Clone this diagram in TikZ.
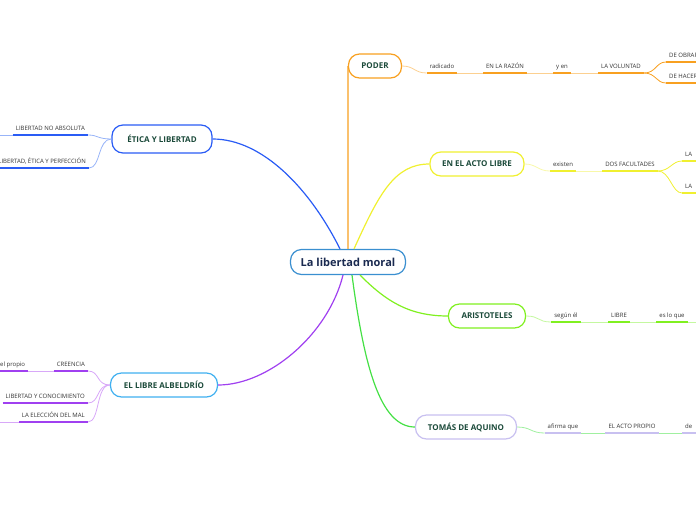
\documentclass[tikz,border=0pt]{standalone}
\usepackage{fontspec}
\setmainfont{Open Sans}
\definecolor{cenblue}{HTML}{3A8FD0}
\definecolor{cenink}{HTML}{1A2A50}
\definecolor{topink}{HTML}{1B4A3A}
\definecolor{leafink}{HTML}{333333}
\definecolor{poderc}{HTML}{F8A020}
\definecolor{poderl}{HTML}{FCD090}
\definecolor{eticac}{HTML}{2A5CF5}
\definecolor{eticl}{HTML}{98B4F8}
\definecolor{actoc}{HTML}{F0F030}
\definecolor{actol}{HTML}{F8F8A8}
\definecolor{aristc}{HTML}{80F020}
\definecolor{aristl}{HTML}{C4F8A0}
\definecolor{albelc}{HTML}{40B0F0}
\definecolor{albelline}{HTML}{A040F0}
\definecolor{albell}{HTML}{D8A8F8}
\definecolor{tomasc}{HTML}{C8C0F0}
\definecolor{tomasline}{HTML}{44E044}
\definecolor{tomasl}{HTML}{A0F0A0}

\begin{document}
\begin{tikzpicture}[x=1pt,y=-1pt,
  central/.style={draw=cenblue,line width=1.2pt,rounded corners=11pt,fill=white,
    minimum height=25pt,minimum width=115pt,text=cenink,
    font=\fontsize{11}{13}\selectfont\bfseries},
  topic/.style={rounded corners=11pt,fill=white,line width=1.2pt,minimum height=24pt,
    inner xsep=10pt,text=topink,font=\fontsize{8}{9}\selectfont\bfseries},
  leaf/.style={inner xsep=3pt,inner ysep=3pt,text height=4.5pt,text depth=1pt,
    text=leafink,font=\fontsize{6}{7}\selectfont},
  link/.style={line width=1.2pt},
  uline/.style={line width=1.8pt},
  thinl/.style={line width=0.8pt}]
\useasboundingbox (0,0) rectangle (696,520);

% topics
\node[central] (moral) at (348,262) {La libertad moral};
\node[topic,draw=poderc,minimum width=53pt] (poder) at (375,66) {PODER};
\node[topic,draw=eticac,minimum width=100pt,minimum height=28pt] (etica) at (162,139) {ÉTICA Y LIBERTAD};
\node[topic,draw=actoc,minimum width=94pt] (acto) at (477,164) {EN EL ACTO LIBRE};
\node[topic,draw=aristc,minimum width=77pt] (arist) at (487,316) {ARISTOTELES};
\node[topic,draw=albelc,minimum width=107pt] (albel) at (164,385) {EL LIBRE ALBELDRÍO};
\node[topic,draw=tomasc,minimum width=101pt] (tomas) at (466,427) {TOMÁS DE AQUINO};

\draw[link,eticac] ([xshift=-8pt]moral.north) .. controls +(-30,-60) and +(50,0) .. (etica.east);
\draw[link,poderc] (moral.north) -- (poder.west);
\draw[link,actoc] ([xshift=6pt]moral.north) .. controls +(25,-55) and +(-35,0) .. (acto.west);
\draw[link,aristc] ([xshift=12pt]moral.south) .. controls +(25,25) and +(-40,0) .. (arist.west);
\draw[link,albelline] ([xshift=-5pt]moral.south) .. controls +(-15,60) and +(50,0) .. (albel.east);
\draw[link,tomasline] ([xshift=4pt]moral.south) .. controls +(12,90) and +(-35,0) .. (tomas.west);

% PODER
\node[leaf,anchor=south] (radicado) at (442,73) {radicado};
\node[leaf,anchor=south] (razon) at (505,73) {EN LA RAZÓN};
\node[leaf,anchor=south] (yen) at (562,73) {y en};
\node[leaf,anchor=south] (voluntad) at (621,73) {LA VOLUNTAD};
\node[leaf,anchor=south west] (obrar) at (666,62) {DE OBRAR};
\node[leaf,anchor=south west] (hacer) at (666,83) {DE HACER};
\draw[thinl,poderl] (poder.east) .. controls +(12,0) and +(-12,0) .. (radicado.south west);
\draw[thinl,poderl] (radicado.south east) -- (razon.south west);
\draw[thinl,poderl] (razon.south east) -- (yen.south west);
\draw[thinl,poderl] (yen.south east) -- (voluntad.south west);
\draw[thinl,poderc] (voluntad.south east) .. controls +(12,0) and +(-10,0) .. (obrar.south west);
\draw[thinl,poderc] (voluntad.south east) .. controls +(12,0) and +(-10,0) .. (hacer.south west);
\draw[uline,poderc] (radicado.south west) -- (radicado.south east);
\draw[uline,poderc] (razon.south west) -- (razon.south east);
\draw[uline,poderc] (yen.south west) -- (yen.south east);
\draw[uline,poderc] (voluntad.south west) -- (voluntad.south east);
\draw[uline,poderc] (obrar.south west) -- (obrar.south east);
\draw[uline,poderc] (hacer.south west) -- (hacer.south east);

% EN EL ACTO LIBRE
\node[leaf,anchor=south] (existen) at (563,171) {existen};
\node[leaf,anchor=south] (facultades) at (630,171) {DOS FACULTADES};
\node[leaf,anchor=south west] (laA) at (682,161) {LA};
\node[leaf,anchor=south west] (laB) at (682,193) {LA};
\draw[thinl,actol] (acto.east) .. controls +(12,0) and +(-12,0) .. (existen.south west);
\draw[thinl,actol] (existen.south east) -- (facultades.south west);
\draw[thinl,actoc] (facultades.south east) .. controls +(12,0) and +(-10,0) .. (laA.south west);
\draw[thinl,actoc] (facultades.south east) .. controls +(12,0) and +(-10,0) .. (laB.south west);
\draw[uline,actoc] (existen.south west) -- (existen.south east);
\draw[uline,actoc] (facultades.south west) -- (facultades.south east);
\draw[uline,actoc] (laA.south west) -- ([xshift=20pt]laA.south east);
\draw[uline,actoc] (laB.south west) -- ([xshift=20pt]laB.south east);

% ARISTOTELES
\node[leaf,anchor=south] (segun) at (566,322) {según él};
\node[leaf,anchor=south] (libre) at (619,322) {LIBRE};
\node[leaf,anchor=south] (esloque) at (672,322) {es lo que};
\coordinate (bordeA) at (700,322);
\draw[thinl,aristl] (arist.east) .. controls +(14,0) and +(-14,0) .. (segun.south west);
\draw[thinl,aristl] (segun.south east) -- (libre.south west);
\draw[thinl,aristl] (libre.south east) -- (esloque.south west);
\draw[thinl,aristl] (esloque.south east) -- (bordeA);
\draw[uline,aristc] (segun.south west) -- (segun.south east);
\draw[uline,aristc] (libre.south west) -- (libre.south east);
\draw[uline,aristc] (esloque.south west) -- (esloque.south east);

% TOMAS DE AQUINO
\node[leaf,anchor=south] (afirma) at (563,433) {afirma que};
\node[leaf,anchor=south] (actopropio) at (632,433) {EL ACTO PROPIO};
\node[leaf,anchor=south west] (de) at (682,433) {de};
\draw[thinl,tomasl] (tomas.east) .. controls +(14,0) and +(-14,0) .. (afirma.south west);
\draw[thinl,tomasl] (afirma.south east) -- (actopropio.south west);
\draw[thinl,tomasl] (actopropio.south east) -- (de.south west);
\draw[uline,tomasc] (afirma.south west) -- (afirma.south east);
\draw[uline,tomasc] (actopropio.south west) -- (actopropio.south east);
\draw[uline,tomasc] (de.south west) -- ([xshift=20pt]de.south east);

% ETICA Y LIBERTAD
\node[leaf,anchor=south east] (noabs) at (88,135) {LIBERTAD NO ABSOLUTA};
\node[leaf,anchor=south east] (perfec) at (89,168) {LIBERTAD, ÉTICA Y PERFECCIÓN};
\coordinate (bordeB) at (-4,135);
\draw[thinl,eticl] (etica.west) .. controls +(-14,0) and +(10,0) .. (noabs.south east);
\draw[thinl,eticl] (etica.west) .. controls +(-14,0) and +(12,0) .. (perfec.south east);
\draw[thinl,eticl] (noabs.south west) -- (bordeB);
\draw[uline,eticac] (noabs.south west) -- (noabs.south east);
\draw[uline,eticac] (perfec.south west) -- (perfec.south east);

% EL LIBRE ALBELDRIO
\node[leaf,anchor=south east] (creencia) at (88,371) {CREENCIA};
\node[leaf,anchor=south west] (propio) at (-3,371) {el propio};
\node[leaf,anchor=south east] (conoc) at (88,403) {LIBERTAD Y CONOCIMIENTO};
\node[leaf,anchor=south east] (eleccion) at (88,422) {LA ELECCIÓN DEL MAL};
\coordinate (bordeC) at (-4,422);
\draw[thinl,albell] (albel.west) .. controls +(-14,0) and +(12,0) .. (creencia.south east);
\draw[thinl,albell] (albel.west) .. controls +(-14,0) and +(12,0) .. (conoc.south east);
\draw[thinl,albell] (albel.west) .. controls +(-14,0) and +(12,0) .. (eleccion.south east);
\draw[thinl,albell] (creencia.south west) -- (propio.south east);
\draw[thinl,albell] (eleccion.south west) -- (bordeC);
\draw[uline,albelline] (creencia.south west) -- (creencia.south east);
\draw[uline,albelline] (propio.south west) -- (propio.south east);
\draw[uline,albelline] (conoc.south west) -- (conoc.south east);
\draw[uline,albelline] (eleccion.south west) -- (eleccion.south east);
\end{tikzpicture}
\end{document}
